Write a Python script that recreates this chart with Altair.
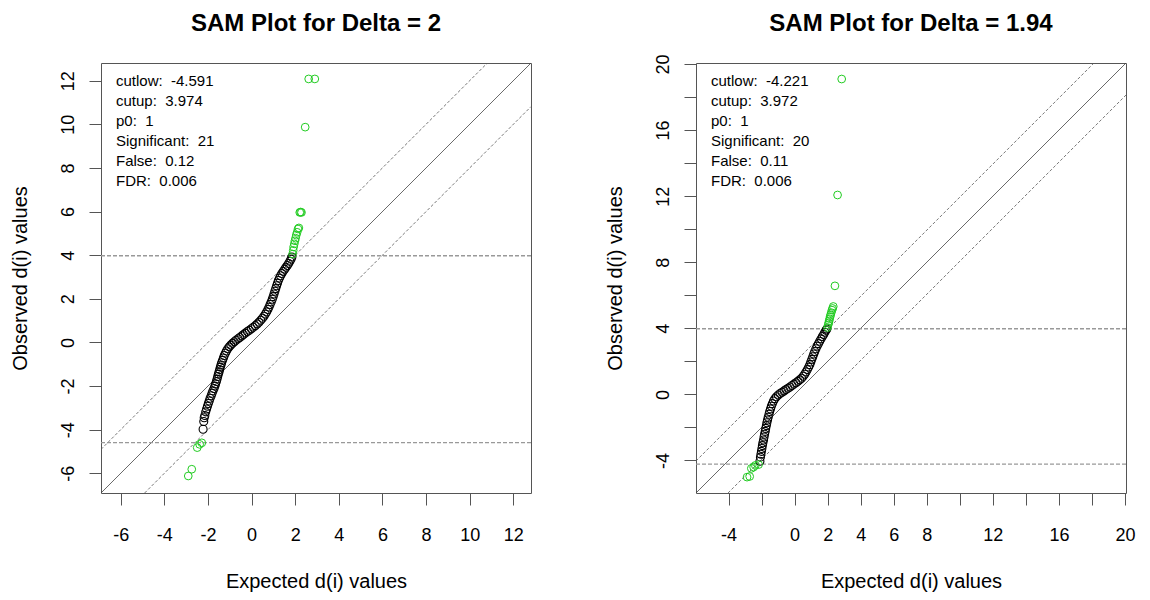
import altair as alt
import pandas as pd

FONT = "Liberation Sans"

# ---------------- Left panel: Delta = 2 ----------------
L_title = "SAM Plot for Delta = 2"
L_delta = 2.0
L_cutlow = -4.591
L_cutup = 3.974
L_domain = [-6.90, 12.81]
L_xticks = [-6, -4, -2, 0, 2, 4, 6, 8, 10, 12]
L_xlabels = [-6, -4, -2, 0, 2, 4, 6, 8, 10, 12]
L_ylabels = [-6, -4, -2, 0, 2, 4, 6, 8, 10, 12]
L_stats = ["cutlow:\u00a0 -4.591", "cutup:\u00a0 3.974", "p0:\u00a0 1",
           "Significant:\u00a0 21", "False:\u00a0 0.12", "FDR:\u00a0 0.006"]

L_exp = [-2.22, -2.19, -2.17, -2.14, -2.10, -2.06, -2.02, -1.98, -1.94, -1.90,
         -1.85, -1.81, -1.77, -1.72, -1.68, -1.65, -1.61, -1.58, -1.55, -1.52,
         -1.49, -1.46, -1.43, -1.40, -1.37, -1.33, -1.29, -1.25, -1.20, -1.15,
         -1.09, -1.02, -0.95, -0.87, -0.79, -0.71, -0.62, -0.54, -0.45, -0.37,
         -0.28, -0.19, -0.10, -0.01, 0.08, 0.17, 0.26, 0.34, 0.42, 0.50,
         0.57, 0.63, 0.69, 0.75, 0.80, 0.85, 0.90, 0.95, 0.99, 1.03,
         1.07, 1.11, 1.15, 1.19, 1.23, 1.28, 1.33, 1.39, 1.45, 1.52,
         1.58, 1.64, 1.70, 1.76, 1.81, 1.85]
L_obs = [-3.98, -3.62, -3.45, -3.35, -3.18, -3.05, -2.92, -2.80, -2.68, -2.56,
         -2.44, -2.33, -2.22, -2.11, -2.00, -1.90, -1.79, -1.68, -1.56, -1.45,
         -1.35, -1.24, -1.13, -1.03, -0.93, -0.82, -0.71, -0.60, -0.49, -0.39,
         -0.29, -0.20, -0.12, -0.04, 0.03, 0.10, 0.17, 0.23, 0.30, 0.36,
         0.43, 0.50, 0.56, 0.63, 0.70, 0.77, 0.85, 0.93, 1.02, 1.11,
         1.20, 1.30, 1.40, 1.51, 1.62, 1.74, 1.86, 1.98, 2.10, 2.22,
         2.35, 2.47, 2.60, 2.72, 2.84, 2.95, 3.06, 3.16, 3.26, 3.36,
         3.45, 3.53, 3.62, 3.72, 3.82, 3.92]
L_sig_exp = [-2.90, -2.74, -2.49, -2.38, -2.28,
             1.88, 1.91, 1.93, 1.96, 1.99, 2.02, 2.05, 2.09, 2.13, 2.17,
             2.21, 2.25, 2.29, 2.46, 2.62, 2.90]
L_sig_obs = [-6.12, -5.81, -4.82, -4.67, -4.60,
             4.05, 4.22, 4.38, 4.52, 4.66, 4.78, 4.92, 5.05, 5.20, 5.25,
             5.96, 5.98, 5.96, 9.87, 12.08, 12.08]

# ---------------- Right panel: Delta = 1.94 ----------------
R_title = "SAM Plot for Delta = 1.94"
R_delta = 1.94
R_cutlow = -4.221
R_cutup = 3.972
R_domain = [-5.97, 20.06]
R_xticks = [-4, -2, 0, 2, 4, 6, 8, 10, 12, 14, 16, 18, 20]
R_xlabels = [-4, 0, 2, 4, 6, 8, 12, 16, 20]
R_ylabels = [-4, 0, 4, 8, 12, 16, 20]
R_stats = ["cutlow:\u00a0 -4.221", "cutup:\u00a0 3.972", "p0:\u00a0 1",
           "Significant:\u00a0 20", "False:\u00a0 0.11", "FDR:\u00a0 0.006"]

R_exp = [-2.10, -2.07, -2.04, -2.01, -1.98, -1.95, -1.92, -1.88, -1.85, -1.82,
         -1.78, -1.75, -1.71, -1.68, -1.64, -1.60, -1.55, -1.51, -1.46, -1.41,
         -1.35, -1.28, -1.20, -1.10, -0.99, -0.88, -0.76, -0.64, -0.52, -0.40,
         -0.28, -0.16, -0.04, 0.08, 0.20, 0.31, 0.42, 0.52, 0.61, 0.69,
         0.77, 0.85, 0.92, 0.98, 1.04, 1.10, 1.16, 1.22, 1.29, 1.36,
         1.44, 1.52, 1.60, 1.68, 1.76, 1.83, 1.90, 1.95]
R_obs = [-4.05, -3.80, -3.62, -3.45, -3.28, -3.10, -2.93, -2.76, -2.58, -2.41,
         -2.24, -2.06, -1.89, -1.72, -1.55, -1.38, -1.20, -1.04, -0.88, -0.72,
         -0.56, -0.40, -0.26, -0.14, -0.04, 0.05, 0.13, 0.21, 0.29, 0.37,
         0.45, 0.54, 0.62, 0.70, 0.79, 0.88, 0.98, 1.10, 1.22, 1.36,
         1.50, 1.65, 1.80, 1.96, 2.12, 2.28, 2.44, 2.60, 2.76, 2.92,
         3.07, 3.22, 3.36, 3.50, 3.63, 3.76, 3.88, 3.96]
R_sig_exp = [-2.88, -2.72, -2.62, -2.48, -2.38, -2.18,
             1.99, 2.03, 2.06, 2.09, 2.12, 2.15, 2.18, 2.22, 2.26, 2.30,
             2.34, 2.44, 2.60, 2.85]
R_sig_obs = [-5.01, -4.97, -4.48, -4.40, -4.30, -4.25,
             4.05, 4.20, 4.33, 4.45, 4.58, 4.70, 4.82, 4.95, 5.10, 5.20,
             5.32, 6.57, 12.07, 19.09]

BOX = "#555555"
W = 430
H = 430


def label_expr(shown):
    arr = "[" + ",".join(str(v) for v in shown) + "]"
    return f"indexof({arr}, datum.value) >= 0 ? toString(datum.value) : ''"


def panel(title, domain, delta, cutlow, cutup, ticks, xlabels, ylabels, stats,
          ex, ob, sex, sob):
    scale = alt.Scale(domain=domain, nice=False, zero=False)
    common = dict(values=ticks, domain=False, grid=False, tickSize=12,
                  tickColor=BOX, tickWidth=1, labelFont=FONT, labelFontSize=18,
                  labelColor="black", titleFont=FONT, titleFontSize=20,
                  titleFontWeight="normal", titleColor="black",
                  labelFlush=False, labelOverlap=False)
    xaxis = alt.Axis(title="Expected d(i) values", labelExpr=label_expr(xlabels),
                     labelPadding=21, titlePadding=27, **common)
    yaxis = alt.Axis(title="Observed d(i) values", labelExpr=label_expr(ylabels),
                     labelAngle=-90, labelAlign="center", labelBaseline="bottom",
                     labelPadding=12, titlePadding=29, **common)
    X = alt.X("e:Q", scale=scale, axis=xaxis)
    Y = alt.Y("o:Q", scale=scale, axis=yaxis)

    lo, hi = domain
    diag = pd.DataFrame({"e": [lo, hi], "o": [lo, hi]})
    upper = pd.DataFrame({"e": [lo, hi - delta], "o": [lo + delta, hi]})
    lower = pd.DataFrame({"e": [lo + delta, hi], "o": [lo, hi - delta]})
    cuts = pd.DataFrame({"o": [cutlow, cutup]})
    pts = pd.DataFrame({"e": ex, "o": ob})
    sig = pd.DataFrame({"e": sex, "o": sob})
    one = pd.DataFrame({"k": [0]})

    l_diag = alt.Chart(diag).mark_line(color="#444444", strokeWidth=0.8, clip=True).encode(x=X, y=Y)
    l_up = alt.Chart(upper).mark_line(color="#555555", strokeWidth=0.8, strokeDash=[3, 2], clip=True).encode(x=X, y=Y)
    l_lo = alt.Chart(lower).mark_line(color="#555555", strokeWidth=0.8, strokeDash=[3, 2], clip=True).encode(x=X, y=Y)
    l_cut = alt.Chart(cuts).mark_rule(color="#999999", strokeWidth=1.3, strokeDash=[4, 2]).encode(y=Y)
    l_pts = alt.Chart(pts).mark_point(shape="circle", filled=False, color="black",
                                      size=64, strokeWidth=1.1, opacity=1).encode(x=X, y=Y)
    l_sig = alt.Chart(sig).mark_point(shape="circle", filled=False, color="#22cc22",
                                      size=60, strokeWidth=1, opacity=1).encode(x=X, y=Y)
    l_txt = alt.Chart(one).mark_text(
        align="left", baseline="top", font=FONT, fontSize=15, lineHeight=20, color="black"
    ).encode(x=alt.value(15), y=alt.value(11), text=alt.value(stats))
    l_title = alt.Chart(one).mark_text(
        align="center", baseline="alphabetic", font=FONT, fontSize=24,
        fontWeight="bold", color="black"
    ).encode(x=alt.value(W / 2), y=alt.value(-32), text=alt.value(title))

    return alt.layer(l_diag, l_up, l_lo, l_cut, l_pts, l_sig, l_txt, l_title).properties(
        width=W, height=H,
    )


left = panel(L_title, L_domain, L_delta, L_cutlow, L_cutup, L_xticks, L_xlabels,
             L_ylabels, L_stats, L_exp, L_obs, L_sig_exp, L_sig_obs)
right = panel(R_title, R_domain, R_delta, R_cutlow, R_cutup, R_xticks, R_xlabels,
              R_ylabels, R_stats, R_exp, R_obs, R_sig_exp, R_sig_obs)

chart = alt.hconcat(left, right, spacing=71).properties(
    padding={"left": 1, "top": 3, "right": 5, "bottom": 0}
).configure_view(stroke=BOX, strokeWidth=1)

chart.save("out.html", embed_options={"renderer": "svg", "actions": False})
